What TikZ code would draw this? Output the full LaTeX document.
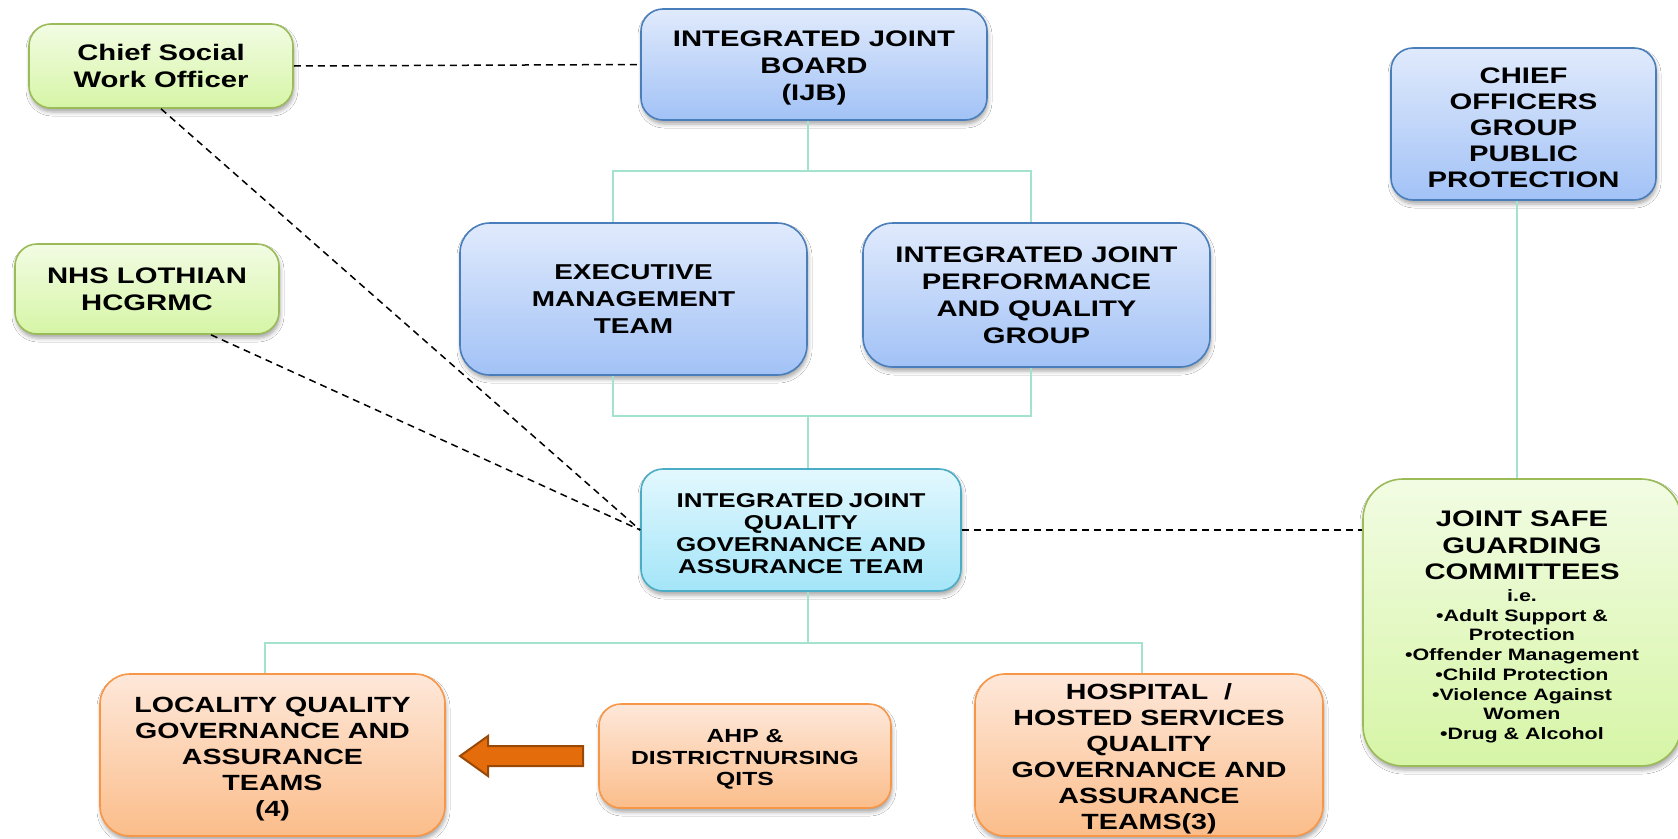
\documentclass[tikz,border=0pt]{standalone}
\usepackage{fontspec}
\setmainfont{Liberation Sans}[FakeStretch=1.3]
\usetikzlibrary{shadows,shadows.blur,calc}
\definecolor{bluetop}{HTML}{E0EAFC}
\definecolor{bluebot}{HTML}{A2C2F6}
\definecolor{blueline}{HTML}{4A7EBB}
\definecolor{cyantop}{HTML}{E3F8FE}
\definecolor{cyanbot}{HTML}{A3E5F8}
\definecolor{cyanline}{HTML}{4BACC6}
\definecolor{greentop}{HTML}{F2FCE3}
\definecolor{greenbot}{HTML}{D6F5A6}
\definecolor{greenline}{HTML}{9BBB59}
\definecolor{orangetop}{HTML}{FEE8DA}
\definecolor{orangebot}{HTML}{FBBD8A}
\definecolor{orangeline}{HTML}{F79646}
\definecolor{connc}{HTML}{A2E2CE}
\definecolor{arrowfill}{HTML}{E46C0A}
\definecolor{arrowline}{HTML}{984807}
\newcommand\topstrut[1]{\rule{0pt}{#1}}
\begin{document}
\begin{tikzpicture}[x=1pt,y=-1pt,
  box/.style={line width=1.6pt, rounded corners=22pt, align=center,
    inner sep=0pt,
    blur shadow={shadow xshift=1pt, shadow yshift=-4pt, shadow blur radius=4pt, shadow opacity=35}},
  bluebox/.style={box, draw=blueline, top color=bluetop, bottom color=bluebot},
  cyanbox/.style={box, draw=cyanline, top color=cyantop, bottom color=cyanbot},
  greenbox/.style={box, draw=greenline, top color=greentop, bottom color=greenbot},
  orangebox/.style={box, draw=orangeline, top color=orangetop, bottom color=orangebot},
  fstd/.style={font=\fontsize{22.5}{27}\selectfont\bfseries},
  conn/.style={draw=connc, line width=1.8pt},
  dsh/.style={draw=black, line width=1.5pt, dash pattern=on 7pt off 5pt},
]
\fill[white] (0,0) rectangle (1678,838);
\useasboundingbox (0,0) rectangle (1678,838);

% bus points of the solid connectors
\coordinate (jm) at (808,171);
\coordinate (ja) at (613,171);
\coordinate (jb) at (1031,171);
\coordinate (km) at (808,416);
\coordinate (ka) at (613,416);
\coordinate (kb) at (1031,416);
\coordinate (lm) at (808,643);
\coordinate (la) at (265,643);
\coordinate (lb) at (1142,643);
\coordinate (ca) at (1517,300);

% nodes
\node[greenbox, fstd, minimum width=264pt, minimum height=84pt] (cswo) at (161,66)
  {Chief Social\\Work Officer};
\node[bluebox, fstd, minimum width=346pt, minimum height=111pt] (ijb) at (814,64.5)
  {\topstrut{23pt}INTEGRATED JOINT\\BOARD\\(IJB)};
\node[bluebox, font=\fontsize{22.5}{26}\selectfont\bfseries, minimum width=265pt, minimum height=152pt] (cog) at (1523.5,124)
  {\topstrut{24pt}CHIEF\\OFFICERS\\GROUP\\PUBLIC\\PROTECTION};
\node[greenbox, fstd, minimum width=264pt, minimum height=90pt] (nhs) at (147,289)
  {NHS LOTHIAN\\HCGRMC};
\node[bluebox, font=\fontsize{21.5}{27}\selectfont\bfseries, rounded corners=30pt, minimum width=347pt, minimum height=152pt] (emt) at (633.5,299)
  {EXECUTIVE\\MANAGEMENT\\TEAM};
\node[bluebox, fstd, rounded corners=30pt, minimum width=347pt, minimum height=144pt] (ijpqg) at (1036.5,295)
  {INTEGRATED JOINT\\PERFORMANCE\\AND QUALITY\\GROUP};
\node[cyanbox, font=\fontsize{20}{22}\selectfont\bfseries, minimum width=320pt, minimum height=122pt] (iq) at (801,530)
  {\topstrut{21pt}INTEGRATED\hspace{-2pt} JOINT\\QUALITY\\GOVERNANCE AND\\ASSURANCE TEAM};
\node[greenbox, rounded corners=40pt, minimum width=318pt, minimum height=287pt] (jsg) at (1522,622.5)
  {\begin{minipage}{310pt}\centering
   \vspace*{9pt}
   {\fontsize{22.5}{26.5}\selectfont\bfseries JOINT SAFE\\GUARDING\\COMMITTEES\par}
   \vspace{2pt}
   {\fontsize{16.5}{19.7}\selectfont\bfseries i.e.\\•Adult Support \&\\Protection\\•Offender Management\\•Child Protection\\•Violence Against\\Women\\•Drug \& Alcohol\par}
   \end{minipage}};
\node[orangebox, font=\fontsize{22}{26}\selectfont\bfseries, rounded corners=30pt, minimum width=345pt, minimum height=162pt] (loc) at (272.5,755)
  {\topstrut{24pt}LOCALITY QUALITY\\GOVERNANCE AND\\ASSURANCE\\TEAMS\\(4)};
\node[orangebox, font=\fontsize{19}{21.5}\selectfont\bfseries, minimum width=292pt, minimum height=104pt] (ahp) at (745,756)
  {\topstrut{20pt}AHP \&\\DISTRICTNURSING\\QITS};
\node[orangebox, font=\fontsize{22}{26}\selectfont\bfseries, rounded corners=30pt, minimum width=348pt, minimum height=162pt] (hosp) at (1149,755)
  {\topstrut{24pt}HOSPITAL~~/\\HOSTED SERVICES\\QUALITY\\GOVERNANCE AND\\ASSURANCE\\TEAMS(3)};

% solid connectors
\draw[conn] (ijb.south -| jm) -- (jm);
\draw[conn] (emt.north -| ja) -- (ja) -- (jb) -- (ijpqg.north -| jb);
\draw[conn] (emt.south -| ka) -- (ka) -- (kb) -- (ijpqg.south -| kb);
\draw[conn] (km) -- (iq.north -| km);
\draw[conn] (iq.south -| lm) -- (lm);
\draw[conn] (loc.north -| la) -- (la) -- (lb) -- (hosp.north -| lb);
\draw[conn] (cog.south -| ca) -- (jsg.north -| ca);

% dashed connectors
\draw[dsh] (cswo.east) -- (ijb.west);
\draw[dsh] (cswo.south) -- (iq.west);
\draw[dsh] ([xshift=64pt]nhs.south) -- (iq.west);
\draw[dsh] (iq.east) -- (jsg.west |- iq.east);

% block arrow from AHP to Locality
\draw[fill=arrowfill, draw=arrowline, line width=2pt, line join=miter]
  (460,756) -- (488,736) -- (488,746) -- (583,746) -- (583,766)
  -- (488,766) -- (488,776) -- cycle;
\end{tikzpicture}
\end{document}
